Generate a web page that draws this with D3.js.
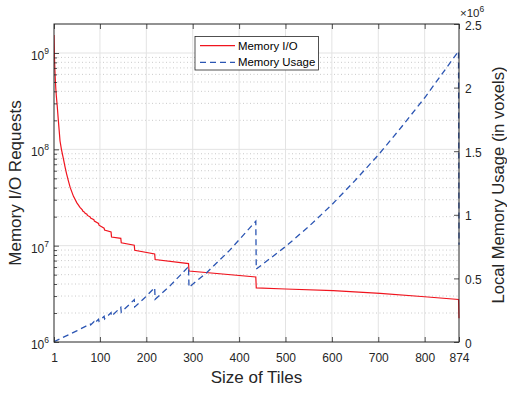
<!DOCTYPE html>
<html><head><meta charset="utf-8">
<script src="https://cdn.jsdelivr.net/npm/d3@7"></script>
<style>
body{margin:0;background:#fff}
svg{display:block;font-family:"Liberation Sans",Arial,Helvetica,sans-serif}
</style>
</head><body>
<svg id="chart" width="507" height="393"></svg>
<script>
// ---- data ----
const ioTiles  = [1, 2, 3, 4, 5, 6, 8, 10, 12, 14, 17, 21, 25, 28, 32, 36, 43, 50, 57, 62, 63, 67, 68, 72, 73, 79, 80, 87, 88, 97, 98, 109, 110, 124, 125, 145, 146, 174, 175, 218, 219, 291, 292, 436, 437, 500, 603, 704, 800, 873, 874];
const ioValues = [1.54e9, 9.0e8, 6.5e8, 5.1e8, 4.2e8, 3.6e8, 2.8e8, 2.1e8, 1.6e8, 1.22e8, 1.0e8, 8.1e7, 6.5e7, 5.6e7, 4.7e7, 4.0e7, 3.25e7, 2.8e7, 2.5e7, 2.35e7, 2.29e7, 2.22e7, 2.17e7, 2.12e7, 2.06e7, 1.99e7, 1.93e7, 1.86e7, 1.80e7, 1.70e7, 1.63e7, 1.52e7, 1.45e7, 1.39e7, 1.23e7, 1.19e7, 1.07e7, 1.01e7, 8.96e6, 8.2e6, 7.18e6, 6.52e6, 5.46e6, 4.73e6, 3.64e6, 3.55e6, 3.42e6, 3.2e6, 2.95e6, 2.76e6, 1.76e6];

const usageTiles  = [1, 25, 50, 70, 79, 80, 87, 88, 97, 98, 109, 110, 124, 125, 145, 146, 174, 175, 196, 218, 219, 250, 291, 292, 330, 380, 436, 437, 500, 550, 600, 650, 700, 750, 800, 873, 874];
const usageValues = [2e3, 44e3, 88e3, 125e3, 141e3, 134e3, 159e3, 147e3, 179e3, 163e3, 202e3, 182e3, 231e3, 203e3, 273e3, 234e3, 333e3, 276e3, 346e3, 428e3, 336e3, 437e3, 593e3, 430e3, 545e3, 722e3, 950e3, 573e3, 750e3, 907e3, 1.08e6, 1.27e6, 1.47e6, 1.69e6, 1.92e6, 2.286e6, 7.64e5];

const xTickValues = [1, 100, 200, 300, 400, 500, 600, 700, 800, 874];
const leftTickExponents = [6, 7, 8, 9];
const rightTickValues = [0, 0.5e6, 1e6, 1.5e6, 2e6, 2.5e6];
const seriesNames = ["Memory I/O", "Memory Usage"];
const axisTitles = {x: "Size of Tiles", left: "Memory I/O Requests", right: "Local Memory Usage (in voxels)"};

// ---- layout ----
const L = 54, R = 459, T = 24, B = 342;
const ink = "#262626";
const red = "#f0141e", blue = "#2b55b3";

const svg = d3.select("#chart");
const x = d3.scaleLinear().domain([1, 874]).range([L, R]);
const yL = d3.scaleLog().domain([1e6, 2e9]).range([B, T]);
const yR = d3.scaleLinear().domain([0, 2.5e6]).range([B, T]);

// ---- grid ----
const grid = svg.append("g");
const minorVals = [];
leftTickExponents.forEach(e => { for (let k = 2; k <= 9; k++) { const v = k * Math.pow(10, e); if (v < 2e9) minorVals.push(v); } });
grid.selectAll("line.minor").data(minorVals).join("line")
  .attr("x1", L).attr("x2", R).attr("y1", d => yL(d)).attr("y2", d => yL(d))
  .attr("stroke", "#bdbdbd").attr("stroke-width", 0.8).attr("stroke-dasharray", "1,2.5");
grid.selectAll("line.majorH").data(leftTickExponents.slice(1).map(e => Math.pow(10, e))).join("line")
  .attr("x1", L).attr("x2", R).attr("y1", d => yL(d)).attr("y2", d => yL(d))
  .attr("stroke", "#e3e3e3").attr("stroke-width", 1);
grid.selectAll("line.majorV").data(xTickValues.slice(1, -1)).join("line")
  .attr("x1", d => x(d)).attr("x2", d => x(d)).attr("y1", T).attr("y2", B)
  .attr("stroke", "#e3e3e3").attr("stroke-width", 1);

// ---- series ----
svg.append("defs").append("clipPath").attr("id", "clip")
  .append("rect").attr("x", L).attr("y", T - 1).attr("width", R - L + 1).attr("height", B - T + 2);
const plot = svg.append("g").attr("clip-path", "url(#clip)");
const lineIO = d3.line().x(d => x(d[0])).y(d => yL(d[1]));
const lineUse = d3.line().x(d => x(d[0])).y(d => yR(d[1]));
plot.append("path").datum(d3.zip(ioTiles, ioValues)).attr("d", lineIO)
  .attr("fill", "none").attr("stroke", red).attr("stroke-width", 1.2);
plot.append("path").datum(d3.zip(usageTiles, usageValues)).attr("d", lineUse)
  .attr("fill", "none").attr("stroke", blue).attr("stroke-width", 1.3).attr("stroke-dasharray", "6,4");

// ---- axes ----
const axBottom = svg.append("g").attr("transform", `translate(0,${B})`)
  .call(d3.axisBottom(x).tickValues(xTickValues).tickSizeInner(-5).tickSizeOuter(0).tickPadding(11).tickFormat(d3.format("d")));
const axTop = svg.append("g").attr("transform", `translate(0,${T})`)
  .call(d3.axisTop(x).tickValues(xTickValues).tickSizeInner(-5).tickSizeOuter(0).tickFormat(""));
const axLeft = svg.append("g").attr("transform", `translate(${L},0)`)
  .call(d3.axisLeft(yL).tickValues(leftTickExponents.map(e => Math.pow(10, e))).tickSizeInner(-5).tickSizeOuter(0).tickFormat(""));
const axLeftMinor = svg.append("g").attr("transform", `translate(${L},0)`)
  .call(d3.axisLeft(yL).tickValues(minorVals).tickSizeInner(-3).tickSizeOuter(0).tickFormat(""));
const axRight = svg.append("g").attr("transform", `translate(${R},0)`)
  .call(d3.axisRight(yR).tickValues(rightTickValues).tickSizeInner(-5).tickSizeOuter(0).tickPadding(10).tickFormat(d => d3.format("")(d / 1e6)));
[axBottom, axTop, axLeft, axLeftMinor, axRight].forEach(g => {
  g.select(".domain").remove();
  g.selectAll(".tick line").attr("stroke", ink).attr("stroke-width", 0.8);
  g.selectAll("text").attr("fill", ink).attr("font-size", 12).attr("font-family", "'Liberation Sans',Arial,sans-serif");
});
axBottom.selectAll("text").attr("dy", "0.71em");
axRight.selectAll("text").attr("x", 6).attr("dy", "0.42em");

// left log labels 10^n
const leftLab = svg.append("g");
leftLab.selectAll("text").data(leftTickExponents).join("text")
  .attr("x", 49).attr("y", d => yL(Math.pow(10, d)) + 7)
  .attr("text-anchor", "end").attr("fill", ink).attr("font-size", 12)
  .each(function(d) {
    const t = d3.select(this);
    t.append("tspan").text("10");
    t.append("tspan").attr("dy", -6).attr("font-size", 8.5).text(d);
  });

// box
svg.append("rect").attr("x", L).attr("y", T).attr("width", R - L).attr("height", B - T)
  .attr("fill", "none").attr("stroke", ink).attr("stroke-width", 1);

// x10^6 exponent label
const ex = svg.append("text").attr("x", 460).attr("y", 16.5).attr("fill", ink).attr("font-size", 11.5);
ex.append("tspan").text("\u00d710");
ex.append("tspan").attr("dy", -4.5).attr("font-size", 8.5).text("6");

// axis titles
svg.append("text").attr("x", (L + R) / 2).attr("y", 383).attr("text-anchor", "middle")
  .attr("fill", ink).attr("font-size", 17).text(axisTitles.x);
svg.append("text").attr("transform", `translate(21,${(T + B) / 2}) rotate(-90)`).attr("text-anchor", "middle")
  .attr("fill", ink).attr("font-size", 17).text(axisTitles.left);
svg.append("text").attr("transform", `translate(503.5,${(T + B) / 2 + 2}) rotate(-90)`).attr("text-anchor", "middle")
  .attr("fill", ink).attr("font-size", 16.6).text(axisTitles.right);

// legend
const lg = svg.append("g");
lg.append("rect").attr("x", 195).attr("y", 36.5).attr("width", 123.5).attr("height", 33.5)
  .attr("fill", "#fff").attr("stroke", ink).attr("stroke-width", 0.8);
const legendItems = [{name: seriesNames[0], color: red, dash: null, y: 45.7}, {name: seriesNames[1], color: blue, dash: "6,4", y: 62.3}];
legendItems.forEach(it => {
  lg.append("line").attr("x1", 200).attr("x2", 235).attr("y1", it.y).attr("y2", it.y)
    .attr("stroke", it.color).attr("stroke-width", it.dash ? 1.3 : 1.2).attr("stroke-dasharray", it.dash);
  lg.append("text").attr("x", 238).attr("y", it.y + 4).attr("fill", "#000").attr("font-size", 11.4).text(it.name);
});
</script>
</body></html>
